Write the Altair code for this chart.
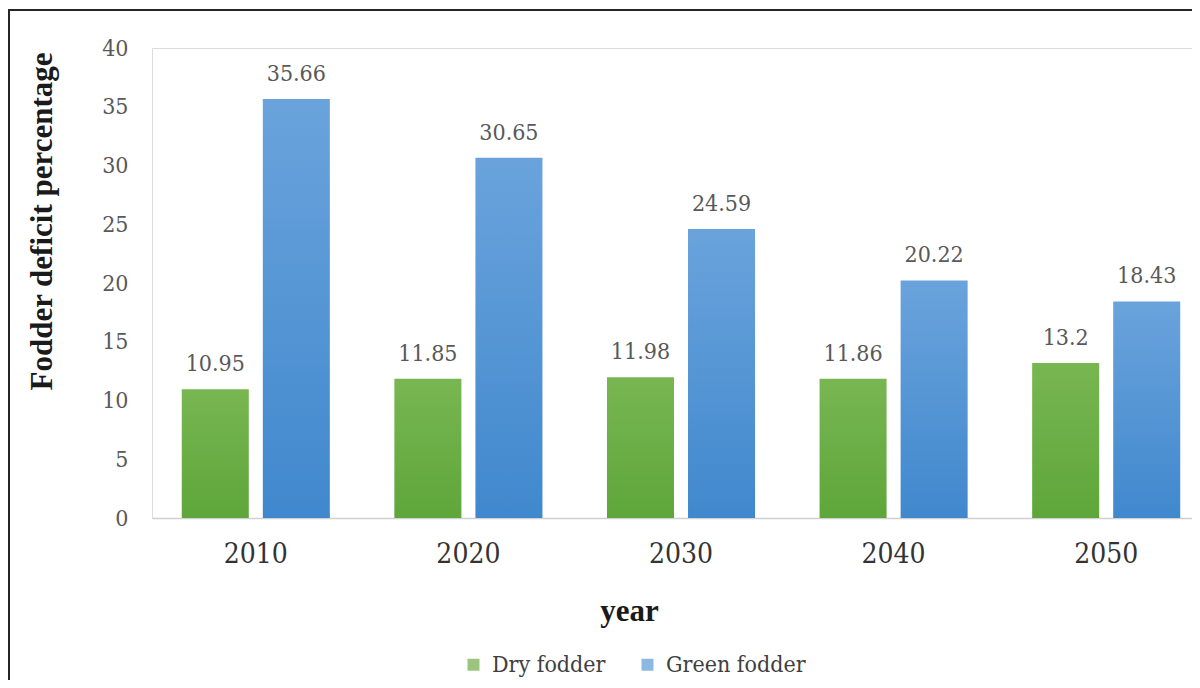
import altair as alt
import pandas as pd

years = ["2010", "2020", "2030", "2040", "2050"]
dry = [10.95, 11.85, 11.98, 11.86, 13.2]
green = [35.66, 30.65, 24.59, 20.22, 18.43]
series = ["Dry fodder", "Green fodder"]
y_ticks = [0, 5, 10, 15, 20, 25, 30, 35, 40]

rows = []
for yr, d, g in zip(years, dry, green):
    rows.append({"year": yr, "series": series[0], "value": d, "label": f"{d:g}"})
    rows.append({"year": yr, "series": series[1], "value": g, "label": f"{g:g}"})
df = pd.DataFrame(rows)

SERIF = "Liberation Serif"
REG = "DejaVu Serif Condensed"

x_enc = alt.X("year:N", sort=years,
              scale=alt.Scale(range=[0, 1058], paddingInner=0.3035, paddingOuter=0.14),
              axis=alt.Axis(labelAngle=0, labelFont=REG, labelFontSize=28, labelColor="#333333",
                            labelPadding=22, labelBaseline="top", ticks=False,
                            domainColor="#d0d0d0", domainWidth=1.5,
                            title="year", titleFont=SERIF, titleFontSize=31, titleFontWeight="bold",
                            titleColor="#1a1a1a", titleX=477, titleY=102, titleAlign="center",
                            titleBaseline="alphabetic"))
y_enc = alt.Y("value:Q",
              scale=alt.Scale(domain=[0, 40], nice=False),
              axis=alt.Axis(values=y_ticks, ticks=False, domain=False, grid=False,
                            labelFont=REG, labelFontSize=23, labelColor="#595959", labelPadding=24,
                            title="Fodder deficit percentage", titleFont=SERIF, titleFontSize=31,
                            titleFontWeight="bold", titleColor="#1a1a1a", titleAngle=270,
                            titleX=-110, titleY=173, titleAlign="center", titleBaseline="middle"))
xo_enc = alt.XOffset("series:N", sort=series,
                     scale=alt.Scale(domain=series, paddingInner=0.173, paddingOuter=0))

base = alt.Chart(df)

green_grad = alt.Gradient(gradient="linear", x1=0, x2=0, y1=0, y2=1,
                          stops=[alt.GradientStop(offset=0, color="#78b652"),
                                 alt.GradientStop(offset=1, color="#5ea63a")])
blue_grad = alt.Gradient(gradient="linear", x1=0, x2=0, y1=0, y2=1,
                         stops=[alt.GradientStop(offset=0, color="#6aa3dc"),
                                alt.GradientStop(offset=1, color="#4088cd")])

bars_dry = base.transform_filter(alt.datum.series == series[0]).mark_bar(fill=green_grad).encode(
    x=x_enc, xOffset=xo_enc, y=y_enc)
bars_green = base.transform_filter(alt.datum.series == series[1]).mark_bar(fill=blue_grad).encode(
    x=x_enc, xOffset=xo_enc, y=y_enc)

labels = base.mark_text(font=REG, fontSize=23, color="#595959",
                        baseline="alphabetic", dy=-18).encode(
    x=x_enc, xOffset=xo_enc, y=y_enc, text="label:N")

legend_layer = base.transform_filter("false").mark_square().encode(
    color=alt.Color("series:N", scale=alt.Scale(domain=series, range=["#70ad47", "#5b9bd5"]),
                    legend=alt.Legend(orient="none", legendX=310, legendY=605, direction="horizontal",
                                      title=None, symbolType="square", symbolSize=144,
                                      symbolStrokeWidth=0, labelFont=REG, labelFontSize=23,
                                      labelColor="#404040", labelOffset=7, columnPadding=30,
                                      padding=0))
)

border = alt.Chart(alt.Data(values=[{}])).mark_rect(fillOpacity=0, stroke="#262626", strokeWidth=2).encode(
    x=alt.value(-143), x2=alt.value(1100), y=alt.value(-38), y2=alt.value(700))

chart = alt.layer(border, bars_dry, bars_green, labels, legend_layer).properties(
    width=1040, height=470,
    autosize=alt.AutoSizeParams(type="none"),
    padding={"left": 144, "top": 40, "right": 0, "bottom": 162},
).configure_view(stroke=None).configure(background="white")

chart.save("out.html", embed_options={"renderer": "svg", "actions": False})
